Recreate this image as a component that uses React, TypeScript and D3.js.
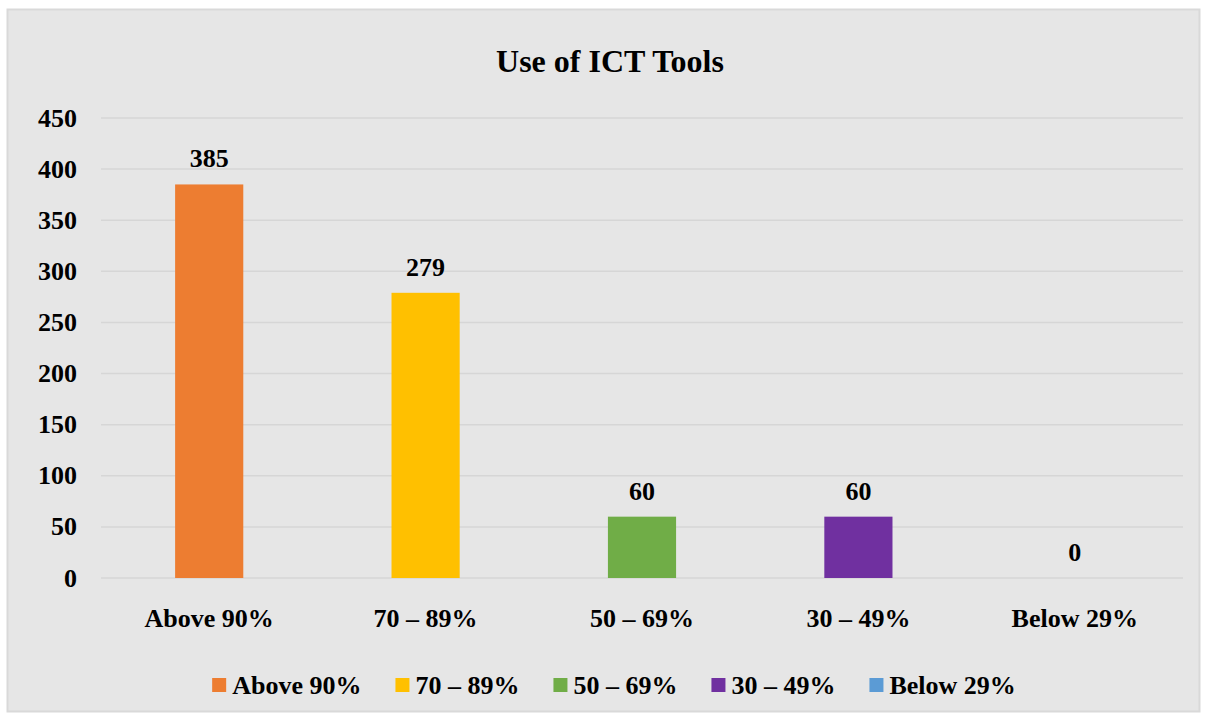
import React, { useEffect, useRef } from 'react'
import * as d3 from 'd3'

const categories = ['Above 90%', '70 – 89%', '50 – 69%', '30 – 49%', 'Below 29%']
const values = [385, 279, 60, 60, 0]
const colors = ['#ed7d31', '#ffc000', '#70ad47', '#7030a0', '#5b9bd5']
const yTicks = [0, 50, 100, 150, 200, 250, 300, 350, 400, 450]

const W = 1206
const H = 717
const font = '"Liberation Serif", "Times New Roman", serif'

const App = () => {
  const legendRef = useRef<SVGGElement>(null)

  const x = d3.scaleBand<string>().domain(categories).range([101, 1183]).padding(0)
  const y = d3.scaleLinear().domain([0, 450]).range([578, 118])
  const barW = x.bandwidth() * 0.315

  useEffect(() => {
    // lay legend items out by their measured text widths, centred
    const g = d3.select(legendRef.current)
    const items = g.selectAll<SVGGElement, unknown>('g.item')
    const widths: number[] = []
    items.each(function () {
      const t = d3.select(this).select<SVGTextElement>('text').node()
      widths.push(20 + (t ? t.getComputedTextLength() : 100))
    })
    const gap = 34
    const total = d3.sum(widths) + gap * (widths.length - 1)
    let cx = 614 - total / 2
    items.each(function (_, i) {
      d3.select(this).attr('transform', `translate(${cx},0)`)
      cx += widths[i] + gap
    })
  }, [])

  return (
    <svg width={W} height={H} style={{ position: 'absolute', left: 0, top: 0 }}>
      <rect x={0} y={0} width={W} height={H} fill="#ffffff" />
      <rect x={7.5} y={9.5} width={1192} height={702} fill="#e6e6e6" stroke="#d9d9d9" strokeWidth={2} />
      <text x={610} y={72} textAnchor="middle" fontFamily={font} fontWeight="bold" fontSize={32}>
        Use of ICT Tools
      </text>

      {yTicks.map(t => (
        <g key={t}>
          <line x1={101} x2={1183} y1={y(t)} y2={y(t)} stroke="#d6d6d6" strokeWidth={1.5} />
          <text x={77} y={y(t)} dy="0.33em" textAnchor="end" fontFamily={font} fontWeight="bold" fontSize={26}>
            {t}
          </text>
        </g>
      ))}

      {categories.map((c, i) => {
        const cx = (x(c) ?? 0) + x.bandwidth() / 2
        return (
          <g key={c}>
            <rect x={cx - barW / 2} y={y(values[i])} width={barW} height={y(0) - y(values[i])} fill={colors[i]} />
            <text x={cx} y={y(values[i]) - 17} textAnchor="middle" fontFamily={font} fontWeight="bold" fontSize={26}>
              {values[i]}
            </text>
            <text x={cx} y={627} textAnchor="middle" fontFamily={font} fontWeight="bold" fontSize={26}>
              {c}
            </text>
          </g>
        )
      })}

      <g ref={legendRef} transform="translate(0,685)">
        {categories.map((c, i) => (
          <g className="item" key={c}>
            <rect x={0} y={-7} width={14} height={14} fill={colors[i]} />
            <text x={20} y={9} fontFamily={font} fontWeight="bold" fontSize={26}>
              {c}
            </text>
          </g>
        ))}
      </g>
    </svg>
  )
}

export default App
